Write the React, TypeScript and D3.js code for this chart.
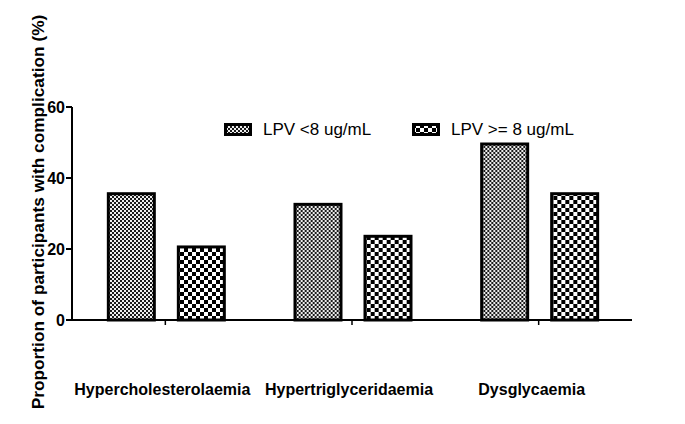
import React from "react";
import * as d3 from "d3";

const categories = ["Hypercholesterolaemia", "Hypertriglyceridaemia", "Dysglycaemia"];
const seriesNames = ["LPV <8 ug/mL", "LPV >= 8 ug/mL"];
const lowValues = [36, 33, 50];
const highValues = [21, 24, 36];
const yTicks = [0, 20, 40, 60];

const W = 685;
const H = 424;
const FONT = "'Liberation Sans', Arial, Helvetica, sans-serif";

export default function App() {
  const x0 = d3.scaleBand<string>().domain(categories).range([72, 632]).padding(0);
  const innerW = 119;
  const x1 = d3
    .scaleBand<string>()
    .domain(seriesNames)
    .range([(x0.bandwidth() - innerW) / 2 + 1, (x0.bandwidth() + innerW) / 2 + 1])
    .paddingInner(0.3)
    .paddingOuter(0);
  const y = d3.scaleLinear().domain([0, 60]).range([320, 107]);
  const series = [lowValues, highValues];
  const fills = ["url(#patFine)", "url(#patCoarse)"];
  const labelShift = [-3, -3, -7];
  const sw = 3;

  return (
    <svg width={W} height={H} style={{ position: "absolute", left: 0, top: 0, background: "#fff" }}>
      <defs>
        <pattern id="patFine" width={4} height={4} patternUnits="userSpaceOnUse">
          <rect width={4} height={4} fill="#eee" />
          <rect x={0} y={0} width={2} height={2} fill="#1a1a1a" />
          <rect x={2} y={2} width={2} height={2} fill="#1a1a1a" />
        </pattern>
        <pattern id="patCoarse" width={8} height={8} patternUnits="userSpaceOnUse">
          <rect width={8} height={8} fill="#fff" />
          <rect x={0} y={0} width={4} height={4} fill="#000" />
          <rect x={4} y={4} width={4} height={4} fill="#000" />
        </pattern>
      </defs>

      {/* bars */}
      {categories.map((c, ci) => (
        <g key={c} transform={`translate(${x0(c)},0)`}>
          {seriesNames.map((s, si) => {
            const v = series[si][ci];
            const bx = (x1(s) as number) + sw / 2;
            const bw = x1.bandwidth() - sw;
            return (
              <rect
                key={s}
                x={bx}
                y={y(v) + sw / 2}
                width={bw}
                height={y(0) - y(v) - sw / 2}
                fill={fills[si]}
                stroke="#000"
                strokeWidth={sw}
              />
            );
          })}
        </g>
      ))}

      {/* y axis */}
      <line x1={72} x2={72} y1={y(60)} y2={y(0)} stroke="#000" strokeWidth={2} />
      {yTicks.map((t) => (
        <g key={t}>
          <line x1={66} x2={72} y1={y(t)} y2={y(t)} stroke="#000" strokeWidth={2} />
          <text
            x={65}
            y={y(t)}
            dy="0.36em"
            textAnchor="end"
            fontFamily={FONT}
            fontWeight="bold"
            fontSize={16}
          >
            {t}
          </text>
        </g>
      ))}

      {/* x axis */}
      <line x1={71} x2={632} y1={y(0)} y2={y(0)} stroke="#000" strokeWidth={2} />
      {categories.map((c, ci) => {
        const cx = (x0(c) as number) + x0.bandwidth() / 2;
        return (
          <g key={c}>
            <line x1={cx} x2={cx} y1={y(0)} y2={y(0) + 5} stroke="#000" strokeWidth={1.5} />
            <text
              x={cx + labelShift[ci]}
              y={395}
              textAnchor="middle"
              fontFamily={FONT}
              fontWeight="bold"
              fontSize={16}
            >
              {c}
            </text>
          </g>
        );
      })}

      {/* y label */}
      <text
        transform={`translate(38,212) rotate(-90)`}
        textAnchor="middle"
        dy="0.35em"
        fontFamily={FONT}
        fontWeight="bold"
        fontSize={17.3}
      >
        Proportion of participants with complication (%)
      </text>

      {/* legend */}
      {seriesNames.map((s, si) => {
        const lx = [224, 412][si];
        return (
          <g key={s}>
            <rect x={lx + 1.5} y={124.5} width={25} height={10} fill={fills[si]} stroke="#000" strokeWidth={3} />
            <text x={lx + 39} y={135} fontFamily={FONT} fontSize={17}>
              {s}
            </text>
          </g>
        );
      })}
    </svg>
  );
}
